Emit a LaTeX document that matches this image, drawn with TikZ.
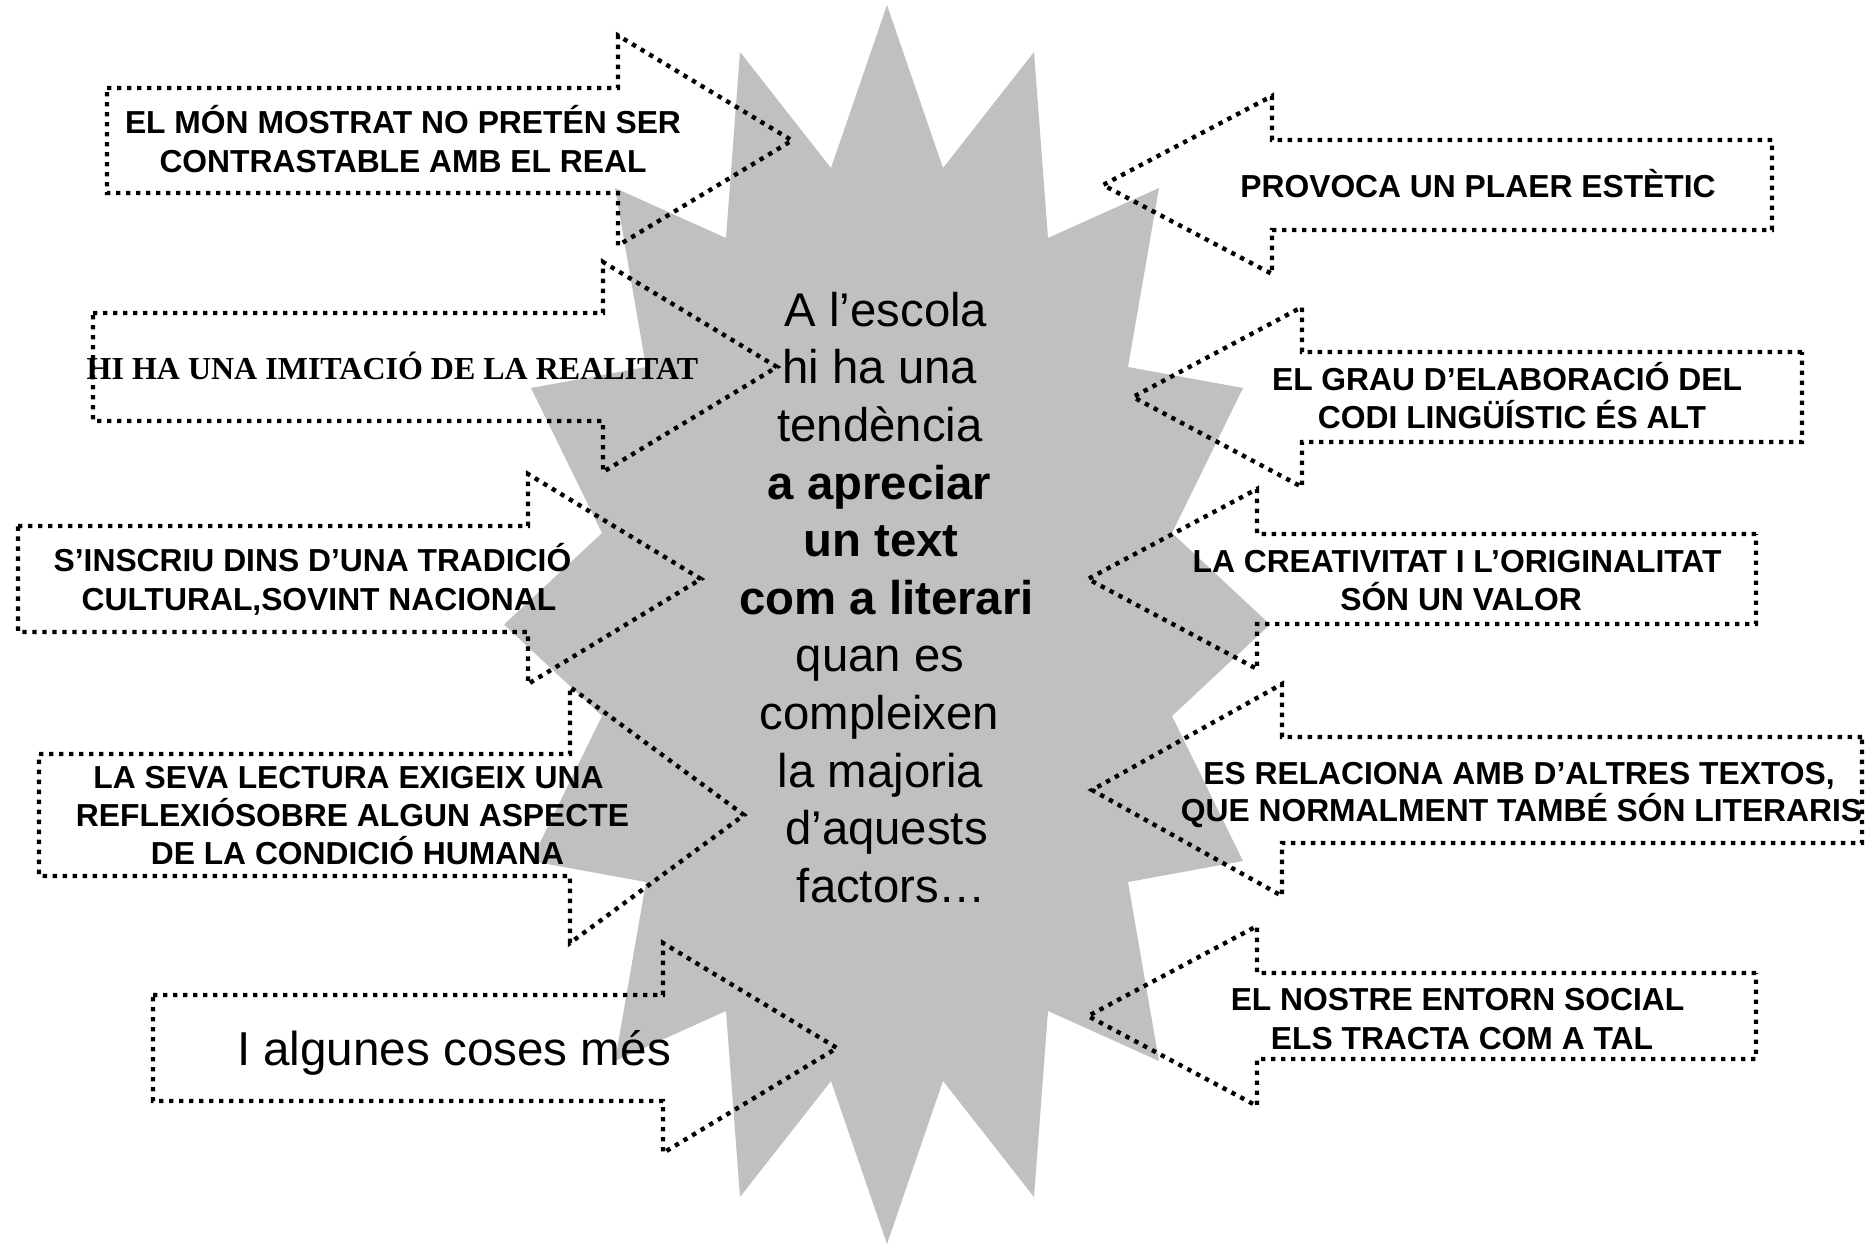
\documentclass[tikz,border=0pt]{standalone}
\usepackage{fontspec}
\setmainfont{Liberation Sans}
\newfontfamily\serifbf{Liberation Serif}
\definecolor{stargray}{RGB}{192,192,192}
\tikzset{
  dotline/.style={draw=black, line width=4.4pt, dash pattern=on 4.4pt off 5.6pt, line join=miter},
  lbl/.style={anchor=base, inner sep=0pt, font=\fontsize{31.8}{38}\selectfont\bfseries},
  tlbl/.style={anchor=base, inner sep=0pt, font=\fontsize{32}{38}\selectfont\serifbf\bfseries},
  big/.style={anchor=base, inner sep=0pt, font=\fontsize{47.6}{57}\selectfont},
  ctr/.style={anchor=base, inner sep=0pt, font=\fontsize{47.3}{57.6}\selectfont},
  ctrb/.style={anchor=base, inner sep=0pt, font=\fontsize{47.3}{57.6}\selectfont\bfseries},
  starshape/.style={fill=stargray, draw=none}
}
% right-pointing arrow: left x, neck x, tip x, centre y, body half, head half
\newcommand\arrR[6]{\draw[dotline] ({#1},{#4-#5}) -- ({#2},{#4-#5}) -- ({#2},{#4-#6}) -- ({#3},{#4}) -- ({#2},{#4+#6}) -- ({#2},{#4+#5}) -- ({#1},{#4+#5}) -- cycle;}
% left-pointing arrow: right x, neck x, tip x, centre y, body half, head half
\newcommand\arrL[6]{\draw[dotline] ({#1},{#4-#5}) -- ({#2},{#4-#5}) -- ({#2},{#4-#6}) -- ({#3},{#4}) -- ({#2},{#4+#6}) -- ({#2},{#4+#5}) -- ({#1},{#4+#5}) -- cycle;}
\begin{document}
\begin{tikzpicture}[x=1pt,y=-1pt]
\useasboundingbox (0,0) rectangle (1876,1247);
% star
\fill[starshape] (887,5) -- (943,168) -- (1034,52) -- (1048,238) -- (1159,188) -- (1128,367) -- (1243,388) -- (1172,533) -- (1270,624.5) -- (1172,716) -- (1243,861) -- (1128,882) -- (1159,1061) -- (1048,1011) -- (1034,1197) -- (943,1081) -- (887,1244) -- (831,1081) -- (740,1197) -- (726,1011) -- (615,1061) -- (646,882) -- (531,861) -- (602,716) -- (504,624.5) -- (602,533) -- (531,388) -- (646,367) -- (615,188) -- (726,238) -- (740,52) -- (831,168) -- cycle;
% left arrows (pointing right)
\arrR{107}{618}{792}{140.5}{52.5}{105}
\arrR{93}{603}{777}{367}{54}{105}
\arrR{18}{528}{701}{579}{53}{105}
\arrR{39}{570}{744}{815}{61}{128}
\arrR{153}{663}{837}{1048}{53}{105}
% right arrows (pointing left)
\arrL{1772}{1272}{1103}{185}{45}{89}
\arrL{1802}{1302}{1133}{397}{45}{90}
\arrL{1756}{1257}{1088}{579}{45}{90}
\arrL{1862}{1282}{1092}{790}{53}{106}
\arrL{1756}{1257}{1088}{1016}{43}{90}
% left labels
\node[lbl] (a1a) at (403,133) {EL MÓN MOSTRAT NO PRETÉN SER};
\node[lbl] (a1b) at (403,172) {CONTRASTABLE AMB EL REAL};
\node[tlbl] (a2a) at (392.5,379) {HI HA UNA IMITACIÓ DE LA REALITAT};
\node[lbl] (a3a) at (312.5,571) {S’INSCRIU DINS D’UNA TRADICIÓ};
\node[lbl] (a3b) at (319,610) {CULTURAL,SOVINT NACIONAL};
\node[lbl] (a4a) at (348.5,788) {LA SEVA LECTURA EXIGEIX UNA};
\node[lbl] (a4b) at (352.5,826) {REFLEXIÓSOBRE ALGUN ASPECTE};
\node[lbl] (a4c) at (357.5,864) {DE LA CONDICIÓ HUMANA};
\node[big] (a5a) at (454,1065) {I algunes coses més};
% right labels
\node[lbl] (r1a) at (1478,197) {PROVOCA UN PLAER ESTÈTIC};
\node[lbl] (r2a) at (1507,390) {EL GRAU D’ELABORACIÓ DEL};
\node[lbl] (r2b) at (1512,428) {CODI LINGÜÍSTIC ÉS ALT};
\node[lbl] (r3a) at (1457,572) {LA CREATIVITAT I L’ORIGINALITAT};
\node[lbl] (r3b) at (1461,610) {SÓN UN VALOR};
\node[lbl] (r4a) at (1519,784) {ES RELACIONA AMB D’ALTRES TEXTOS,};
\node[lbl] (r4b) at (1521.5,821) {QUE NORMALMENT TAMBÉ SÓN LITERARIS};
\node[lbl] (r5a) at (1457.5,1010) {EL NOSTRE ENTORN SOCIAL};
\node[lbl] (r5b) at (1462,1049) {ELS TRACTA COM A TAL};
% centre text
\node[ctr]  (c1)  at (886,326)   {A l’escola};
\node[ctr]  (c2)  at (880,383.6) {hi ha una};
\node[ctr]  (c3)  at (880,441)   {tendència};
\node[ctrb] (c4)  at (879.5,499) {a apreciar};
\node[ctrb] (c5)  at (881,556.5) {un text};
\node[ctrb] (c6)  at (886.5,614) {com a literari};
\node[ctr]  (c7)  at (880,671.6) {quan es};
\node[ctr]  (c8)  at (879.5,729) {compleixen};
\node[ctr]  (c9)  at (880.5,787) {la majoria};
\node[ctr]  (c10) at (886.5,844.5) {d’aquests};
\node[ctr]  (c11) at (891.5,902) {factors…};
\end{tikzpicture}
\end{document}
